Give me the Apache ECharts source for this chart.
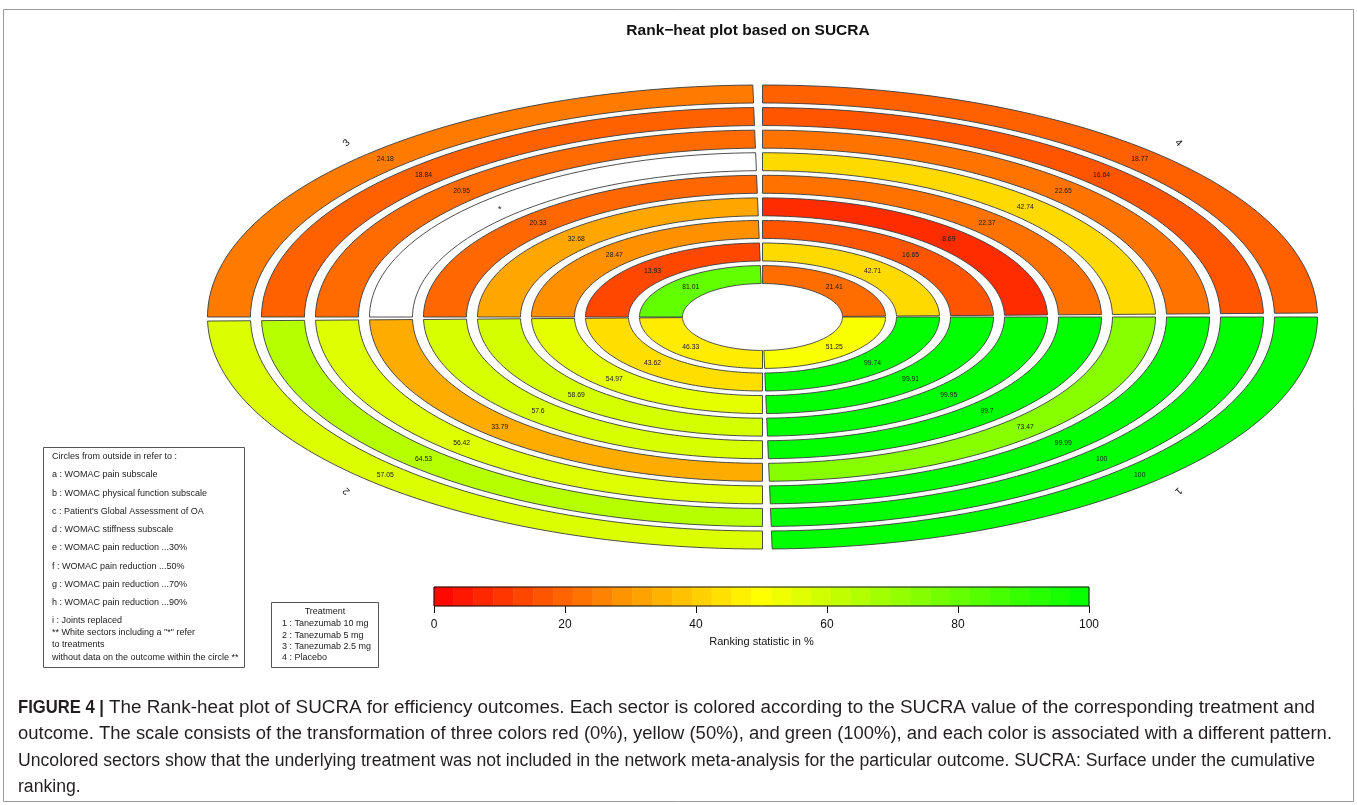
<!DOCTYPE html>
<html>
<head>
<meta charset="utf-8">
<title>Rank-heat plot based on SUCRA</title>
<script src="https://cdn.jsdelivr.net/npm/echarts@6.0.0/dist/echarts.min.js"></script>
<style>
  html, body { margin: 0; padding: 0; background: #fff; }
  #chart { width: 1357px; height: 805px; }
</style>
</head>
<body>
<div id="chart"></div>
<script>
// rings, from the outside in
const outcomes = ['a', 'b', 'c', 'd', 'e', 'f', 'g', 'h', 'i']
const outcomeNames = [
  'WOMAC pain subscale',
  'WOMAC physical function subscale',
  "Patient's Global Assessment of OA",
  'WOMAC stiffness subscale',
  'WOMAC pain reduction ...30%',
  'WOMAC pain reduction ...50%',
  'WOMAC pain reduction ...70%',
  'WOMAC pain reduction ...90%',
  'Joints replaced'
]
const treatments = [1, 2, 3, 4]
const treatmentNames = ['Tanezumab 10 mg', 'Tanezumab 5 mg', 'Tanezumab 2.5 mg', 'Placebo']

// SUCRA in %, rings a -> i, null = treatment not in the network for that outcome
const sucraT1 = [100, 100, 99.99, 73.47, 99.7, 99.95, 99.91, 99.74, 51.25]
const sucraT2 = [57.05, 64.53, 56.42, 33.79, 57.6, 58.69, 54.97, 43.62, 46.33]
const sucraT3 = [24.18, 18.84, 20.95, null, 20.33, 32.68, 28.47, 13.93, 81.01]
const sucraT4 = [18.77, 16.64, 22.65, 42.74, 22.37, 8.69, 16.65, 42.71, 21.41]

// colour key
const keySteps = 33

const captionHead = 'FIGURE 4 |'
const captionLines = [
  'The Rank-heat plot of SUCRA for efficiency outcomes. Each sector is colored according to the SUCRA value of the corresponding treatment and',
  'outcome. The scale consists of the transformation of three colors red (0%), yellow (50%), and green (100%), and each color is associated with a different pattern.',
  'Uncolored sectors show that the underlying treatment was not included in the network meta-analysis for the particular outcome. SUCRA: Surface under the cumulative',
  'ranking.'
]

// ring geometry (outer ring edge = 1)
const PITCH = 0.0973
const RING_W = 0.0775
const GAP_DEG = 1
const FONT = 'Liberation Sans, Arial, sans-serif'
const CAP_FONT = '"Liberation Sans", Arial, sans-serif'

const sectorData = []
;[sucraT1, sucraT2, sucraT3, sucraT4].forEach((vals, t) => {
  vals.forEach((v, r) => {
    sectorData.push([r, treatments[t], v === null ? '-' : v])
  })
})

const keyData = []
for (let k = 0; k < keySteps; k++) {
  const lo = 100 * k / keySteps
  const hi = 100 * (k + 1) / keySteps
  keyData.push([lo, hi, (lo + hi) / 2])
}

function arcPoints (api, r, a0, a1) {
  const pts = []
  const n = 60
  for (let s = 0; s <= n; s++) {
    const a = (a0 + (a1 - a0) * s / n) * Math.PI / 180
    pts.push(api.coord([r * Math.cos(a), r * Math.sin(a)]))
  }
  return pts
}

function renderSector (params, api) {
  const ring = api.value(0)
  const q = api.value(1)
  const v = api.value(2)
  const rOut = 1 - ring * PITCH
  const rIn = rOut - RING_W
  // treatments go clockwise from 3 o'clock
  const a0 = -(q - 1) * 90
  const a1 = -q * 90 + GAP_DEG
  const pts = arcPoints(api, rOut, a0, a1).concat(arcPoints(api, rIn, a1, a0))
  const missing = isNaN(v)
  const am = (a0 - 45) * Math.PI / 180
  const rm = (rOut + rIn) / 2
  const c = api.coord([rm * Math.cos(am), rm * Math.sin(am)])
  return {
    type: 'group',
    children: [{
      type: 'polygon',
      shape: {points: pts},
      style: {fill: missing ? '#ffffff' : api.visual('color'), stroke: '#3c3c3c', lineWidth: 0.9}
    }, {
      type: 'text',
      x: c[0],
      y: c[1] + (missing ? 2 : 0),
      style: {
        text: missing ? '*' : String(v),
        fill: '#1a1a1a',
        font: (missing ? 9 : 6.8) + 'px ' + FONT,
        align: 'center',
        verticalAlign: 'middle'
      }
    }]
  }
}

function renderTreatment (params, api) {
  const q = api.value(0)
  const ang = -(q - 1) * 90 - 45
  const a = ang * Math.PI / 180
  const c = api.coord([1.06 * Math.cos(a), 1.06 * Math.sin(a)])
  return {
    type: 'text',
    x: c[0],
    y: c[1],
    rotation: (ang - 90) * Math.PI / 180,
    style: {
      text: String(q),
      fill: '#111',
      font: '10px ' + FONT,
      align: 'center',
      verticalAlign: 'middle'
    }
  }
}

function renderKey (params, api) {
  const p0 = api.coord([api.value(0), 0])
  const p1 = api.coord([api.value(1), 1])
  const col = api.visual('color')
  return {
    type: 'rect',
    shape: {x: p0[0], y: p1[1], width: p1[0] - p0[0], height: p0[1] - p1[1]},
    style: {fill: col, stroke: col, lineWidth: 0.5}
  }
}

// squeeze caption lines to the width they take in the figure
const measureCtx = document.createElement('canvas').getContext('2d')
function textWidth (t, font) {
  measureCtx.font = font
  return measureCtx.measureText(t).width
}

const legendLines = ['Circles from outside in refer to :']
  .concat(outcomes.map((o, i) => o + ' : ' + outcomeNames[i]))
const legendY = [457, 475, 494, 512, 530, 548, 567, 585, 603, 621]

const graphics = [
  {type: 'rect', shape: {x: 3.5, y: 9.5, width: 1350, height: 792}, style: {fill: 'none', stroke: '#9a9a9a', lineWidth: 1}, silent: true},
  {type: 'rect', shape: {x: 43.5, y: 447.5, width: 201, height: 220}, style: {fill: '#fff', stroke: '#555', lineWidth: 1}},
  {type: 'rect', shape: {x: 271.5, y: 602.5, width: 107, height: 65}, style: {fill: '#fff', stroke: '#555', lineWidth: 1}},
  {type: 'text', x: 748, y: 31, style: {text: 'Rank\u2212heat plot based on SUCRA', fill: '#111', font: 'bold 15.5px ' + FONT, align: 'center', verticalAlign: 'middle'}}
]
legendLines.forEach((t, i) => {
  graphics.push({type: 'text', x: 52, y: legendY[i], style: {text: t, fill: '#222', font: '9px ' + FONT, verticalAlign: 'middle'}})
})
;['** White sectors including a "*" refer', 'to treatments', 'without data on the outcome within the circle **'].forEach((t, i) => {
  graphics.push({type: 'text', x: 52, y: [633, 645, 658][i], style: {text: t, fill: '#222', font: '9px ' + FONT, verticalAlign: 'middle'}})
})
graphics.push({type: 'text', x: 325, y: 612, style: {text: 'Treatment', fill: '#222', font: '9px ' + FONT, align: 'center', verticalAlign: 'middle'}})
treatments.forEach((t, i) => {
  graphics.push({type: 'text', x: 282, y: 624 + i * 11.3, style: {text: t + ' : ' + treatmentNames[i], fill: '#222', font: '9px ' + FONT, verticalAlign: 'middle'}})
})

const capSize = 18
const capFont = capSize + 'px ' + CAP_FONT
const capBold = 'bold ' + capFont
const capY = [708, 734, 761, 787]
const capStart = [109, 18, 18, 18]
const capEnd = [1315, 1332, 1315]
const headScale = 86 / textWidth(captionHead, capBold)
graphics.push({type: 'text', x: 18, y: capY[0], scaleX: headScale, style: {text: captionHead, fill: '#231f20', font: capBold, verticalAlign: 'middle'}})
let lastScale = 1
captionLines.forEach((t, i) => {
  const sx = i < capEnd.length ? (capEnd[i] - capStart[i]) / textWidth(t, capFont) : lastScale
  lastScale = sx
  graphics.push({type: 'text', x: capStart[i], y: capY[i], scaleX: sx, style: {text: t, fill: '#231f20', font: capFont, verticalAlign: 'middle'}})
})

const chart = echarts.init(document.getElementById('chart'))
chart.setOption({
  animation: false,
  backgroundColor: '#ffffff',
  grid: [
    {left: 207.5, top: 85, width: 1110, height: 464},
    {left: 434, top: 587, width: 655, height: 19, show: true, borderColor: '#111', borderWidth: 1, z: 5, backgroundColor: 'transparent'}
  ],
  xAxis: [
    {gridIndex: 0, type: 'value', min: -1, max: 1, show: false},
    {
      gridIndex: 1,
      type: 'value',
      min: 0,
      max: 100,
      interval: 20,
      axisLine: {show: false},
      axisTick: {show: true, length: 7, lineStyle: {color: '#111'}},
      splitLine: {show: false},
      axisLabel: {fontSize: 12, color: '#111', margin: 13, fontFamily: FONT},
      name: 'Ranking statistic in %',
      nameLocation: 'middle',
      nameGap: 30,
      nameTextStyle: {fontSize: 11, color: '#111', fontFamily: FONT}
    }
  ],
  yAxis: [
    {gridIndex: 0, type: 'value', min: -1, max: 1, show: false},
    {gridIndex: 1, type: 'value', min: 0, max: 1, show: false}
  ],
  visualMap: {
    type: 'continuous',
    show: false,
    min: 0,
    max: 100,
    dimension: 2,
    seriesIndex: [0, 2],
    inRange: {color: ['#ff0000', '#ffff00', '#00ff00']}
  },
  graphic: graphics,
  series: [
    {
      type: 'custom',
      xAxisIndex: 0,
      yAxisIndex: 0,
      renderItem: renderSector,
      data: sectorData,
      silent: true
    },
    {
      type: 'custom',
      xAxisIndex: 0,
      yAxisIndex: 0,
      renderItem: renderTreatment,
      data: treatments.map(t => [t]),
      silent: true
    },
    {
      type: 'custom',
      xAxisIndex: 1,
      yAxisIndex: 1,
      renderItem: renderKey,
      data: keyData,
      silent: true
    }
  ]
})
</script>
</body>
</html>
